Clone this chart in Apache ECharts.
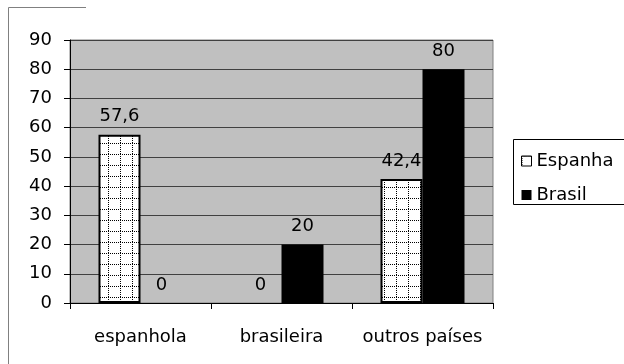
<!DOCTYPE html>
<html>
<head>
<meta charset="utf-8">
<script src="https://cdn.jsdelivr.net/npm/echarts@6/dist/echarts.min.js"></script>
<style>
  html, body { margin: 0; padding: 0; background: #fff; }
  #chart { width: 624px; height: 364px; }
</style>
</head>
<body>
<div id="chart"></div>
<script>
const categories = ['espanhola', 'brasileira', 'outros países'];
const espanha = [57.6, 0, 42.4];
const brasil = [0, 20, 80];
const yTicks = [0, 10, 20, 30, 40, 50, 60, 70, 80, 90];

// dotted grid fill like the old excel pattern
const makePattern = () => {
  const c = document.createElement('canvas');
  c.width = 12;
  c.height = 11;
  const ctx = c.getContext('2d');
  ctx.fillStyle = '#fff';
  ctx.fillRect(0, 0, 12, 11);
  ctx.fillStyle = '#000';
  for (let i = 0; i < 12; i += 2) ctx.fillRect(i, 0, 1, 1);
  for (let i = 0; i < 11; i += 2) ctx.fillRect(0, i, 1, 1);
  return c;
};
const pattern = { image: makePattern(), repeat: 'repeat' };

// no outline on the empty bars
const toItems = arr => arr.map(v => (v === 0 ? { value: v, itemStyle: { borderWidth: 0 } } : v));

const fmt = p => String(p.value).replace('.', ',');
const font = '"DejaVu Sans", Arial, sans-serif';
const labelStyle = { show: true, position: 'top', distance: 9, fontSize: 18, color: '#000', fontFamily: font, formatter: fmt };

const myChart = echarts.init(document.getElementById('chart'));
myChart.setOption({
  backgroundColor: '#fff',
  animation: false,
  textStyle: { fontFamily: font },
  grid: {
    left: 70, right: 131, top: 40, bottom: 61,
    show: true, backgroundColor: '#c0c0c0', borderColor: '#808080', borderWidth: 1
  },
  legend: {
    orient: 'vertical',
    left: 516,
    top: 147,
    icon: 'rect',
    itemWidth: 10,
    itemHeight: 10,
    itemGap: 16,
    textStyle: { fontSize: 18, color: '#000', fontFamily: font },
    data: [
      { name: 'Espanha', itemStyle: { color: pattern, borderColor: '#000', borderWidth: 1 } },
      { name: 'Brasil', itemStyle: { color: '#000' } }
    ]
  },
  xAxis: {
    type: 'category',
    data: categories,
    axisLine: { lineStyle: { color: '#000', width: 1 } },
    axisTick: { show: true, length: 6, lineStyle: { color: '#000' } },
    axisLabel: { fontSize: 18, color: '#000', margin: 25, fontFamily: font, interval: 0, hideOverlap: false }
  },
  yAxis: {
    type: 'value',
    min: 0,
    max: 90,
    interval: 10,
    axisLine: { show: true, lineStyle: { color: '#000' } },
    axisTick: { show: true, length: 6, lineStyle: { color: '#000' } },
    axisLabel: {
      fontSize: 18, color: '#000', margin: 18, fontFamily: font,
      formatter: v => (yTicks.includes(v) ? String(v) : '')
    },
    splitLine: { lineStyle: { color: '#404040', width: 1 } }
  },
  series: [
    {
      name: 'Espanha',
      type: 'bar',
      data: toItems(espanha),
      barWidth: 42,
      barGap: '0%',
      itemStyle: { color: pattern, borderColor: '#000', borderWidth: 2 },
      label: labelStyle
    },
    {
      name: 'Brasil',
      type: 'bar',
      data: brasil,
      barWidth: 42,
      barGap: '0%',
      itemStyle: { color: '#000' },
      label: labelStyle
    }
  ],
  graphic: [
    {
      type: 'polyline',
      shape: { points: [[8.5, 364], [8.5, 7.5], [86, 7.5]] },
      style: { stroke: '#808080', lineWidth: 1, fill: null },
      silent: true
    },
    {
      type: 'rect',
      shape: { x: 513.5, y: 139.5, width: 200, height: 65 },
      style: { stroke: '#000', lineWidth: 1, fill: null },
      silent: true
    }
  ]
});
window.addEventListener('resize', function () {
  myChart.resize();
});
</script>
</body>
</html>
